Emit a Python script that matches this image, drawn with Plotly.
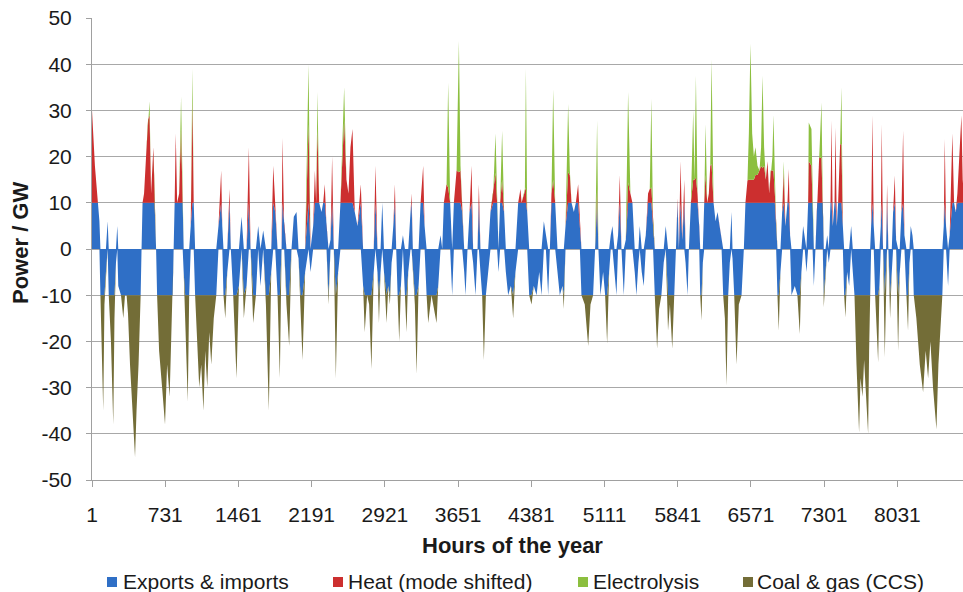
import numpy as np
import plotly.graph_objects as go

# ---------------- data (hour of year, net balance GW) ----------------
hours = [
    1, 30, 60, 75, 85, 105, 113, 125, 140, 157, 168, 190, 213, 225, 240, 253, 263, 290, 313, 330,
    346, 360, 380, 410, 430, 445, 465, 486, 495, 505, 520, 540, 560, 575, 590, 613, 625, 640, 650, 670,
    700, 729, 750, 775, 790, 805, 815, 825, 836, 850, 870, 889, 905, 915, 930, 956, 970, 985, 1002, 1015,
    1029, 1050, 1070, 1090, 1112, 1130, 1150, 1170, 1190, 1215, 1240, 1262, 1289, 1300, 1312, 1330, 1350, 1372, 1385,
    1409, 1442, 1466, 1492, 1515, 1542, 1565, 1582, 1608, 1635, 1658, 1681, 1708, 1735, 1764, 1788, 1808, 1828, 1851, 1874,
    1891, 1900, 1917, 1940, 1967, 1990, 2013, 2040, 2060, 2080, 2100, 2126, 2160, 2180, 2206, 2223, 2236, 2249, 2266, 2289,
    2306, 2322, 2339, 2359, 2379, 2395, 2412, 2432, 2455, 2478, 2495, 2515, 2538, 2558, 2578, 2598, 2621, 2648, 2681, 2704,
    2720, 2744, 2764, 2787, 2810, 2827, 2847,
    2862, 2878, 2895, 2912, 2938, 2955, 2971, 2988, 3005, 3021, 3034, 3048, 3064, 3081, 3101, 3121, 3137, 3154, 3177, 3187,
    3200, 3220, 3237, 3257, 3277, 3303, 3317, 3337, 3353, 3386, 3413, 3436, 3453, 3476, 3493, 3509, 3536, 3552, 3572, 3592,
    3609, 3636, 3659, 3675, 3692, 3712, 3725, 3745, 3765, 3785, 3801, 3825, 3845, 3858, 3874, 3891, 3908, 3928, 3951, 3974,
    4001, 4024, 4040, 4054, 4070, 4090, 4110, 4127, 4150, 4177, 4200, 4223, 4250, 4273,
    4284, 4317, 4327, 4340, 4360, 4383, 4406, 4433, 4460, 4483, 4506, 4526, 4549, 4566, 4582, 4599, 4619, 4642, 4665, 4692,
    4705, 4722, 4748, 4765, 4782, 4805, 4825, 4848, 4865, 4881, 4914, 4948, 4971, 4997, 5017, 5037, 5050, 5070, 5097, 5117,
    5137, 5157, 5173, 5190, 5210, 5230, 5246, 5263, 5280, 5303, 5323, 5346, 5369, 5389, 5412, 5429, 5449, 5462, 5482, 5502,
    5522, 5545, 5562, 5578, 5595, 5612, 5635, 5655, 5678, 5701, 5721, 5744,
    5763, 5786, 5806, 5823, 5839, 5852, 5869, 5886, 5906, 5919, 5939, 5952, 5972, 5995, 6008, 6022, 6038, 6055, 6065, 6078,
    6091, 6105, 6118, 6135, 6151, 6165, 6178, 6198, 6218, 6238, 6258, 6278, 6294, 6311, 6327, 6344, 6360, 6377, 6387, 6404,
    6427, 6450, 6477, 6500, 6516, 6536, 6550, 6566, 6583, 6600, 6616, 6636, 6656, 6672, 6686, 6702, 6719, 6736, 6752, 6769,
    6785, 6795, 6809, 6822, 6835, 6848, 6865, 6882, 6898, 6915, 6935, 6948, 6961, 6975, 7008, 7034, 7058, 7074, 7091, 7107,
    7124, 7141, 7147, 7174, 7185,
    7198, 7214, 7231, 7251, 7274, 7287, 7297, 7314, 7331, 7347, 7364, 7374, 7387, 7404, 7414, 7427, 7440, 7460, 7473, 7487,
    7500, 7513, 7530, 7550, 7570, 7586, 7603, 7623, 7639, 7649, 7663, 7683, 7699, 7716, 7739, 7749, 7759, 7769, 7782, 7795,
    7809, 7825, 7839, 7852, 7865, 7875, 7888, 7905, 7918, 7928, 7941, 7958, 7975, 7988, 8005, 8018, 8038, 8054, 8071, 8088,
    8101, 8121, 8137, 8151, 8164, 8181, 8194, 8220, 8254, 8287, 8313, 8337, 8360, 8386, 8420, 8440, 8459, 8479, 8493, 8503,
    8516, 8536, 8552, 8579, 8596, 8612, 8629, 8649, 8669, 8682, 8700, 8730, 8760,
]

net_gw = [
    30, 18, 10, 6, -10, -28, -35, -12, -5, 6, -10, -20, -38, -15, -3, 5, -8, -10, -15, -10,
    -10, -14, -25, -38, -45, -35, -25, -10, 0, 10, 12, 20, 28, 32, 12, 22, 10, 0, -10, -22,
    -30, -38, -25, -32, -20, -10, 0, 10, 25, 10, 12, 33, 10, -5, -15, -33, -10, 5, 39, 10,
    -10, -20, -30, -25, -35, -22, -30, -18, -25, -15, -10, 5, 17, 5, -10, -15, -5, 13, 0,
    -10, -28, -8, 7, -15, -8, 22, 0, -16, -10, 5, -8, 4, -12, -35, -5, 18, 8, -10, -28,
    0, 24, 5, -12, -21, 0, 7, 8, -2, -15, -24, -5, 40, -5, 5, 17, 10, 34, 10, 8,
    10, 14, 5, -12, 2, 20, 0, -28, -5, 10, 20, 35, 15, 12, 22, 26, 8, 5, 14, -8,
    -18, -10, -12, -26, -5, 18, -5,
    -16, -5, 10, -5, -16, -8, -12, -3, 5, 14, 0, -10, -20, -8, 3, -10, -18, -5, 8, 12,
    -5, -12, -27, -8, 10, 18, 5, -10, -16, -10, -13, -16, -8, 3, 0, 10, 14, 36, 10, -10,
    10, 17, 45, 18, 8, -5, -10, 0, 8, 18, -3, -10, 0, 14, -5, -10, -24, -10, -5, 8,
    12, 25, 10, -5, 10, 25.6, 8, -5, -10, -8, -15, -5, 10, 13,
    10, 13, 39, 8, -10, -12, -8, -10, -5, -10, 6, 3, -10, 0, 12, 34.6, 10, -5, -10, -8,
    -13, 5, 31.4, 17, 10, 8, 10, 14, 5, -10, -12, -21, -12, -10, 0, 27.8, 0, -10, -5, -10,
    -20.5, -5, 3, 5, -5, -10, 3, 16, 0, -10, 2, 34, 12, 10, -5, -10, -3, 5, -5, -8,
    3, 12, 13, 32.5, 5, -10, -21.6, -13, -10, -3, 5, -17.7,
    -12, -21.6, -10, 0, 11, 0, 19, 2, 15, -3, -10, 0, 10, 30, 15, 37.5, 12, 5, -10, -15.5,
    -3, 10, 27, 10, 12, 18, 41, 10, 6, 8, 5, 2, -10, -15, -29.6, -10, -3, 8, -2, -10,
    -25, -12, -10, 0, 10, 14.8, 25, 44.4, 25, 20, 22, 18, 17, 22, 37.5, 22, 15, 19, 12, 17,
    20, 29, 12, 5, -10, -17.7, -5, 8, 19, 5, 10, 17.3, 3, -10, -8, -10, -18.4, -5, 5, 2,
    -5, 10, 27.4, 26, 10,
    -8, 0, 10, 19.8, 31.7, 10, -12.6, -5, 3, -3, 10, 27.8, 5, 10, 26.3, 5, 10, 22.7, 35, 5,
    -10, -14.8, -5, -8, 5, -5, -10, -25, -35, -39.7, -28, -32, -24, -30, -40, -22, -10, 5, 28.9, 5,
    -10, -18, -24.5, -8, 5, 27, 0, -23.4, -5, 14, 0, -15, -5, 8, 15.9, 2, -22, -5, 8, 25.6,
    3, -10, -17.7, -3, 5, 3, -10, -15, -25, -31, -22, -28, -20, -30, -39, -25, -18, -10, 5, 23.8,
    5, -8, 3, 25, 10, 8, 12, 20, 28.9, 15, 10, 20, 12,
]

# electrolysis share (GW) of the positive peaks, at the same sample hours
elec_hours = [575, 889, 1002, 2160, 2249, 2515, 3552, 3659, 3675, 4024, 4090,
              4327, 4599, 4748, 4765, 5037, 5346, 5578, 5995, 6022, 6118, 6178,
              6550, 6566, 6583, 6600, 6616, 6636, 6672, 6686, 6702, 6785, 6795,
              6898, 7147, 7174, 7274, 7473]
elec_gw = [3, 7, 7, 13, 8, 7, 22.7, 28.4, 1, 8.5, 10.6,
           25.7, 19.6, 14.8, 1, 14.8, 19.6, 19.2, 15, 22, 11, 22.6,
           10, 29.4, 10, 5, 6, 2, 4, 20, 4, 3, 12,
           2.4, 8.4, 8, 12, 12.3]

x_ticks = [1, 731, 1461, 2191, 2921, 3651, 4381, 5111, 5841, 6571, 7301, 8031]
y_ticks = list(range(-50, 51, 10))

series_names = ["Exports & imports", "Heat (mode shifted)", "Electrolysis", "Coal & gas (CCS)"]
series_colors = ["#2f6fc6", "#cc2f2f", "#8cbf3f", "#736d37"]

# ---------------- split the net balance into the four stacked layers ----------------
h = np.array(hours, dtype=float)
n = np.array(net_gw, dtype=float)
assert len(h) == len(n), (len(h), len(n))
assert np.all(np.diff(h) > 0)
elec = np.zeros_like(n)
for eh, ev in zip(elec_hours, elec_gw):
    idx = np.where(h == eh)[0]
    assert len(idx) == 1, eh
    elec[idx[0]] = ev

exp_pos = np.clip(n, 0, 10)
exp_neg = np.clip(n, -10, 0)
surplus = np.maximum(n - 10, 0)
el = np.minimum(elec, surplus)
heat = surplus - el
coal = np.minimum(n + 10, 0)

FONT = "Liberation Sans, Arial, sans-serif"
fig = go.Figure()


def area(y, color, group):
    fig.add_trace(go.Scatter(x=h, y=y, mode="lines", stackgroup=group,
                             line=dict(width=0, color=color), fillcolor=color,
                             showlegend=False, hoverinfo="skip"))


area(exp_pos, series_colors[0], "pos")
area(heat, series_colors[1], "pos")
area(el, series_colors[2], "pos")
area(exp_neg, series_colors[0], "neg")
area(coal, series_colors[3], "neg")

# ---------------- layout ----------------
L, T, W, H = 92, 18, 871, 462


def px(xp):
    return (xp - L) / W


def py(yp):
    return (T + H - yp) / H


fig.update_layout(
    width=963, height=592,
    margin=dict(l=L, r=963 - L - W, t=T, b=592 - T - H),
    paper_bgcolor="white", plot_bgcolor="white",
    font=dict(family=FONT, size=21, color="#1a1a1a"),
    showlegend=False,
    xaxis=dict(range=[1, 1 + W / 0.1003], tickvals=x_ticks, ticktext=[str(v) for v in x_ticks],
               showgrid=False, zeroline=False, showline=True, linecolor="#a0a0a0", linewidth=1,
               ticks="outside", ticklen=6, tickcolor="#a0a0a0", tickfont=dict(size=21),
               ticklabelstandoff=10),
    yaxis=dict(range=[-50, 50], tickvals=y_ticks, ticktext=[str(v) for v in y_ticks],
               showgrid=True, gridcolor="#a8a8a8", gridwidth=1,
               zeroline=False, showline=True, linecolor="#a0a0a0", linewidth=1,
               ticks="outside", ticklen=5, tickcolor="#a0a0a0", tickfont=dict(size=21),
               ticklabelstandoff=10),
)

annotations = [
    dict(text="<b>Hours of the year</b>", x=px(512), y=py(545), xref="paper", yref="paper",
         showarrow=False, xanchor="center", yanchor="middle", font=dict(size=22)),
    dict(text="<b>Power / GW</b>", x=px(20), y=py(243), xref="paper", yref="paper",
         showarrow=False, xanchor="center", yanchor="middle", textangle=-90, font=dict(size=22)),
]
shapes = []
legend_sq_x = [107, 333, 578, 743]
legend_tx_x = [121, 346, 591, 755]
for name, col, sx, tx in zip(series_names, series_colors, legend_sq_x, legend_tx_x):
    shapes.append(dict(type="rect", xref="paper", yref="paper", x0=px(sx), x1=px(sx + 10),
                       y0=py(587), y1=py(577), fillcolor=col, line=dict(width=0)))
    annotations.append(dict(text=name, x=px(tx), y=py(581), xref="paper", yref="paper",
                            showarrow=False, xanchor="left", yanchor="middle", font=dict(size=21)))
fig.update_layout(annotations=annotations, shapes=shapes)

fig.write_html("out.html")
